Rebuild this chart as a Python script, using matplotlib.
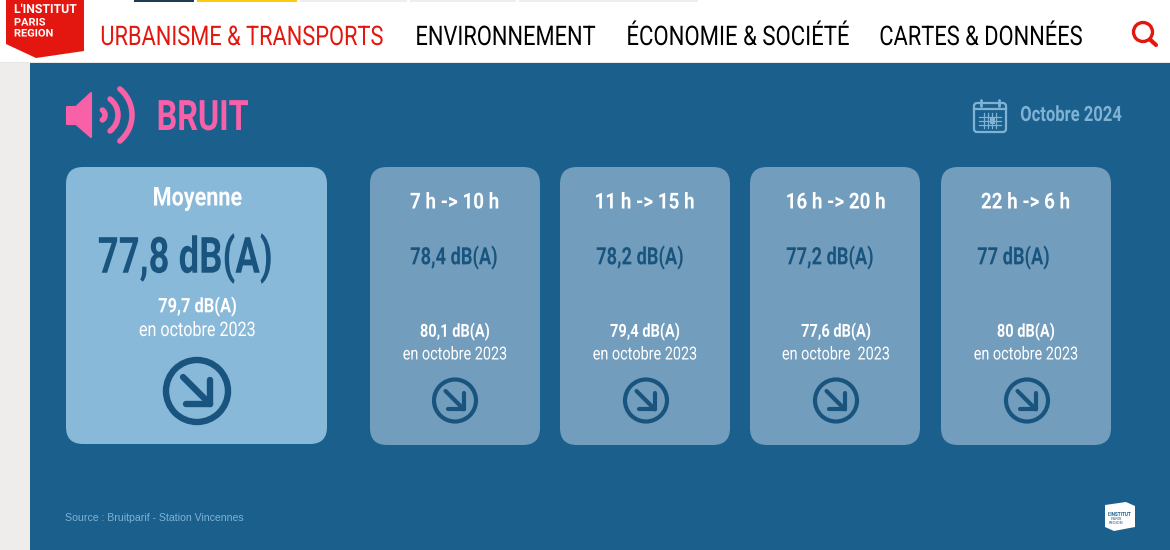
import numpy as np
import matplotlib
matplotlib.use("Agg")
import matplotlib.pyplot as plt
from matplotlib.patches import FancyBboxPatch, Circle, Rectangle, Polygon, Arc
from matplotlib.patheffects import AbstractPathEffect
from matplotlib.text import Text
from matplotlib.transforms import Affine2D, Bbox

plt.rcParams['font.family'] = ['Roboto', 'DejaVu Sans']

# ---- content
nav_labels = ["URBANISME & TRANSPORTS", "ENVIRONNEMENT", "ÉCONOMIE & SOCIÉTÉ", "CARTES & DONNÉES"]
title = "BRUIT"
date_label = "Octobre 2024"
source = "Source : Bruitparif - Station Vincennes"
main_label = "Moyenne"
main_value = "77,8 dB(A)"
main_prev = "79,7 dB(A)"
prev_note = "en octobre 2023"
slot_labels = ["7 h -> 10 h", "11 h -> 15 h", "16 h -> 20 h", "22 h -> 6 h"]
slot_values = ["78,4 dB(A)", "78,2 dB(A)", "77,2 dB(A)", "77 dB(A)"]
slot_prev = ["80,1 dB(A)", "79,4 dB(A)", "77,6 dB(A)", "80 dB(A)"]
slot_notes = ["en octobre 2023", "en octobre 2023", "en octobre  2023", "en octobre 2023"]

# ---- styles
BLUE = "#1b5f8c"; DARK = "#19547e"; LIGHT = "#89b9d9"; CARD = "#729dbd"
RED = "#e3170f"; PINK = "#f860a8"; DATEC = "#7fb3d5"; GREY = "#eeedeb"

fig = plt.figure(figsize=(11.7, 5.5), dpi=100, facecolor="white")
ax = fig.add_axes([0, 0, 1, 1])
ax.set_xlim(0, 1170); ax.set_ylim(550, 0); ax.axis("off")


class Squeeze(AbstractPathEffect):
    """Condense glyphs horizontally around the text's anchor."""
    def __init__(self, sx, ha):
        super().__init__()
        self.sx, self.ha = sx, ha

    def draw_path(self, renderer, gc, tpath, affine, rgbFace=None):
        ext = tpath.transformed(affine).get_extents()
        a = ext.x0 if self.ha == "left" else (ext.x0 + ext.x1) / 2
        renderer.draw_path(gc, tpath, affine + Affine2D().translate(-a, 0).scale(self.sx, 1).translate(a, 0), rgbFace)


class CondText(Text):
    """Real text, condensed; its reported extent follows the condensed glyphs."""
    def __init__(self, *args, sx=1.0, **kw):
        super().__init__(*args, **kw)
        self._sx = sx
        self.set_path_effects([Squeeze(sx, self.get_ha())])

    def get_window_extent(self, renderer=None, dpi=None):
        b = super().get_window_extent(renderer, dpi)
        a = b.x0 if self.get_ha() == "left" else (b.x0 + b.x1) / 2
        return Bbox([[a + (b.x0 - a) * self._sx, b.y0], [a + (b.x1 - a) * self._sx, b.y1]])


def px(s):
    return s * 0.72


def T(x, y, s, size, sx=1.0, color="white", weight="normal", ha="center"):
    ax.add_artist(CondText(x, y + 2.5, s, sx=sx, fontsize=px(size), color=color, fontweight=weight,
                           ha=ha, va="center"))


def card(x0, y0, x1, y1, color, r):
    ax.add_patch(FancyBboxPatch((x0 + r, y0 + r), x1 - x0 - 2 * r, y1 - y0 - 2 * r,
                                boxstyle=f"round,pad={r},rounding_size={r}", fc=color, ec="none"))


def arrow_icon(cx, cy, r, lw):
    ax.add_patch(Circle((cx, cy), r, fc="none", ec=DARK, lw=lw))
    a = r * 0.45; t = r * 0.42
    ax.plot([cx - a, cx + t], [cy - a, cy + t], color=DARK, lw=lw, solid_capstyle="round")
    ax.plot([cx + t, cx + t], [cy - t * 0.85, cy + t], color=DARK, lw=lw, solid_capstyle="round")
    ax.plot([cx - t * 0.85, cx + t], [cy + t, cy + t], color=DARK, lw=lw, solid_capstyle="round")


# backgrounds
ax.add_patch(Rectangle((0, 63), 1170, 487, fc=GREY, ec="none"))
ax.add_patch(Rectangle((30, 63), 1140, 487, fc=BLUE, ec="none"))
ax.add_patch(Rectangle((0, 61.5), 1170, 1.5, fc="#e8e8e8", ec="none"))

# top strip colours
for x0, x1, c in [(134, 194, "#1c3c55"), (197, 297, "#ffc90e"), (300, 407, "#eeeeee"),
                  (410, 516, "#eeeeee"), (519, 698, "#eeeeee")]:
    ax.add_patch(Rectangle((x0, 0), x1 - x0, 2, fc=c, ec="none"))

# logo
ax.add_patch(Polygon([(6, 0), (84, 0), (84, 51), (36, 58), (6, 44)], fc=RED, ec="none"))
T(14, 7, "L'INSTITUT", 12.5, 0.98, ha="left", weight="bold")
T(14, 20, "PARIS", 10.5, 1.05, ha="left", weight="bold")
T(14, 31, "REGION", 10.5, 1.05, ha="left", weight="bold")

# nav
nav_x = [100, 415, 626, 879]
nav_sx = [0.808, 0.81, 0.82, 0.81]
for i, (x, s, q) in enumerate(zip(nav_x, nav_labels, nav_sx)):
    T(x, 35, s, 27, q, color=RED if i == 0 else "black", ha="left")
ax.add_patch(Circle((1143, 32), 9.5, fc="none", ec=RED, lw=2.4))
ax.plot([1150, 1156], [39.5, 45], color=RED, lw=3, solid_capstyle="round")

# speaker icon
ax.add_patch(Polygon([(67, 107), (76, 107), (91, 93), (91, 137), (76, 124), (67, 124)],
                     fc=PINK, ec=PINK, lw=1.5, joinstyle="round"))
for cx, r, th in [(99, 6, 56), (98, 20, 53), (98, 34, 50)]:
    ax.add_patch(Arc((cx, 115), 2 * r, 2 * r, theta1=-th, theta2=th, color=PINK, lw=4.0, capstyle="round"))
T(156, 116, title, 42, 0.77, color=PINK, weight="bold", ha="left")

# calendar icon and date
ax.add_patch(FancyBboxPatch((974, 103), 32, 29, boxstyle="round,pad=0,rounding_size=3",
                            fc="none", ec=DATEC, lw=1.6))
ax.plot([974, 1006], [109, 109], color=DATEC, lw=1.6)
for x in (981, 999):
    ax.plot([x, x], [100, 106], color=DATEC, lw=2, solid_capstyle="round")
for x in (984, 988, 992, 996):
    ax.plot([x, x], [113, 128], color=DATEC, lw=0.9)
for y in (117, 121, 125):
    ax.plot([979, 1001], [y, y], color=DATEC, lw=0.9)
ax.add_patch(Rectangle((990, 118), 5, 6, fc=DATEC, ec="none"))
T(1020, 113, date_label, 21, 0.79, color=DATEC, weight="bold", ha="left")

# main card
card(66, 167, 327, 444, LIGHT, 17)
T(197.5, 196, main_label, 26, 0.83, weight="bold")
T(185.5, 256, main_value, 50, 0.73, color=DARK, weight="bold")
T(197.5, 304, main_prev, 20, 0.82, weight="bold")
T(197, 328, prev_note, 20, 0.805)
arrow_icon(197, 391, 31, 4.6)

# slot cards
x_left = [370, 560, 750, 941]
x_val = [410, 596, 786, 977]
x_mid = [455, 645, 836, 1026]
x_icon = [455, 646, 836, 1027]
for x0, xv, xm, xi, lab, val, prev, note in zip(x_left, x_val, x_mid, x_icon, slot_labels, slot_values, slot_prev, slot_notes):
    card(x0, 167, x0 + 170, 445, CARD, 17)
    T(xm - 0.5, 200, lab, 22, 0.855, weight="bold")
    T(xv, 255, val, 24, 0.76, color=DARK, weight="bold", ha="left")
    T(xm, 329, prev, 18, 0.81, weight="bold")
    T(xm, 352, note, 18, 0.80)
    arrow_icon(xi, 400.5, 21, 3.0)

# footer
ax.text(65, 518, source, fontsize=px(10.5), color=DATEC, ha="left", va="center",
        family=["Liberation Sans", "DejaVu Sans"])
ax.add_patch(Polygon([(1105, 505), (1126, 502), (1135, 506), (1135, 527), (1114, 531), (1105, 527)],
                     fc="white", ec="none"))
ax.text(1120, 514, "L'INSTITUT", fontsize=3.4, color=BLUE, ha="center", va="center", fontweight="bold")
ax.text(1116, 519, "PARIS", fontsize=3, color=BLUE, ha="center", va="center")
ax.text(1116, 523, "REGION", fontsize=3, color=BLUE, ha="center", va="center")

fig.savefig("out.png", dpi=100, facecolor="white")
